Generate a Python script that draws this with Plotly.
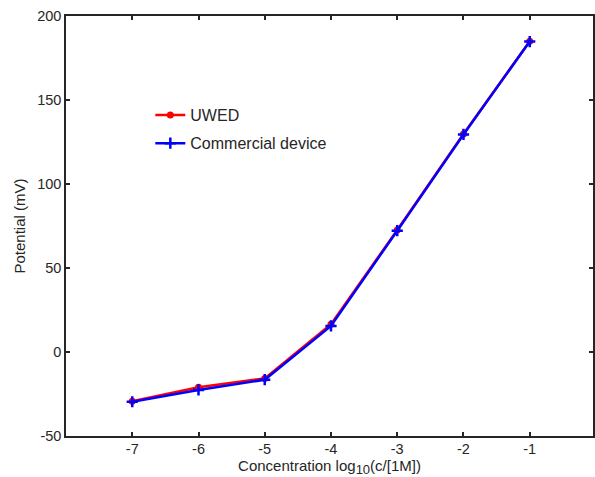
import plotly.graph_objects as go

# log10 concentration (c in M)
log_conc = [-7, -6, -5, -4, -3, -2, -1]

# electrode potential readings, mV
uwed_mv = [-29.3, -21.0, -15.7, 16.5, 72.6, 129.8, 185.0]
commercial_mv = [-29.6, -22.6, -16.5, 15.5, 72.2, 129.5, 184.8]

x_ticks = [-7, -6, -5, -4, -3, -2, -1]
y_ticks = [-50, 0, 50, 100, 150, 200]

FONT = "Liberation Sans, Arial, sans-serif"
INK = "#262626"

fig = go.Figure()

fig.add_trace(go.Scatter(
    x=log_conc, y=uwed_mv, name="UWED", mode="lines+markers",
    line=dict(color="#ff0000", width=2.5),
    marker=dict(symbol="circle", size=7, color="#ff0000"),
    legend="legend",
))
fig.add_trace(go.Scatter(
    x=log_conc, y=commercial_mv, name="Commercial device", mode="lines+markers",
    line=dict(color="#0000ff", width=2.5),
    marker=dict(symbol="cross-thin", size=8, color="#0000ff",
                line=dict(color="#0000ff", width=2.5)),
    legend="legend2",
))

axis_common = dict(
    showgrid=False, zeroline=False,
    showline=True, linecolor=INK, linewidth=1.5,
    ticks="inside", ticklen=4, tickwidth=1.5, tickcolor=INK,
    mirror="ticks",
    tickfont=dict(family=FONT, size=14.5, color=INK),
)

fig.update_xaxes(
    range=[-8, -0.045], tickvals=x_ticks, ticktext=[str(v) for v in x_ticks],
    ticklabelstandoff=-1,
    title=dict(text="Concentration log<sub><span style=\"font-size:13px\">10</span></sub>(c/[1M])",
               font=dict(family=FONT, size=15, color=INK), standoff=7),
    **axis_common,
)
fig.update_yaxes(
    range=[-50, 200], tickvals=y_ticks, ticktext=[str(v) for v in y_ticks],
    title=dict(text="Potential (mV)",
               font=dict(family=FONT, size=15, color=INK), standoff=8),
    **axis_common,
)

legend_common = dict(
    bgcolor="rgba(0,0,0,0)", borderwidth=0,
    font=dict(family=FONT, size=16, color=INK),
    xanchor="left", yanchor="middle",
    itemwidth=30,
)

fig.update_layout(
    width=595, height=477,
    margin=dict(l=66, r=0, t=16, b=41),
    paper_bgcolor="white", plot_bgcolor="white",
    showlegend=True,
    legend=dict(x=0.160, y=0.764, **legend_common),
    legend2=dict(x=0.160, y=0.697, **legend_common),
)

fig.write_html("out.html")
